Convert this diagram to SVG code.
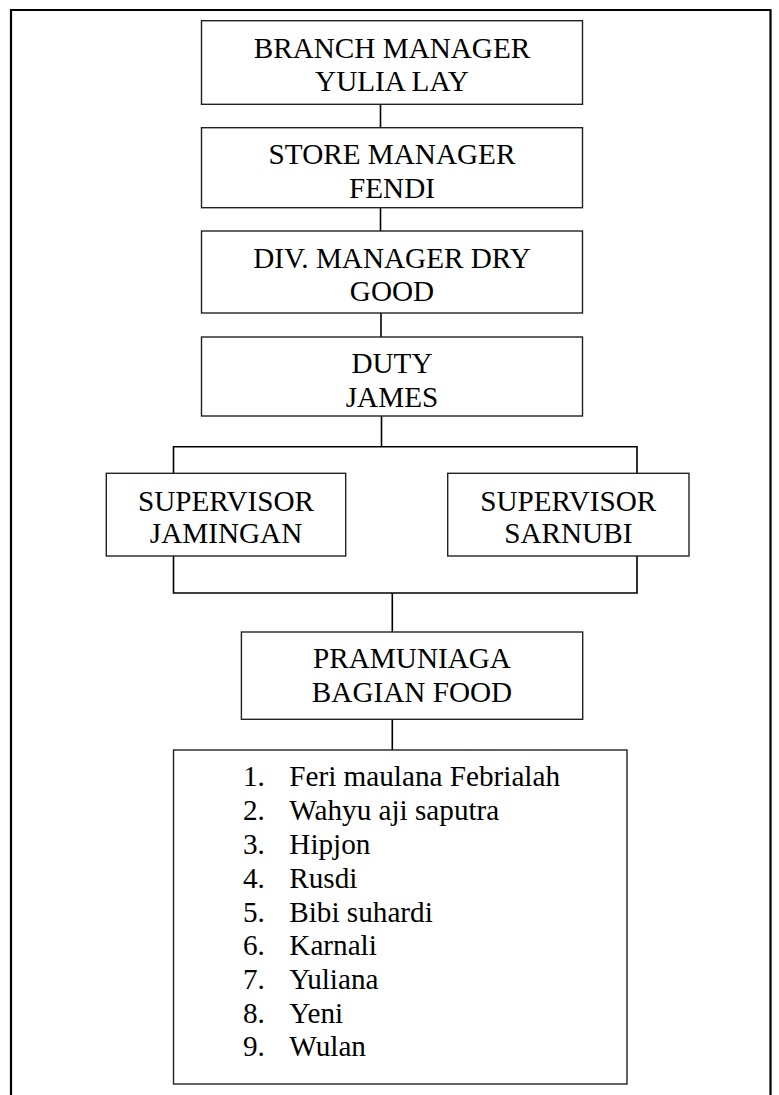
<svg xmlns="http://www.w3.org/2000/svg" width="779" height="1095" viewBox="0 0 779 1095">
<style>
.box{fill:#fff;stroke:#222;stroke-width:1.4}
.t{font-family:"Liberation Serif","Times New Roman",serif;font-size:29.2px;fill:#000;text-anchor:middle}
.l{font-family:"Liberation Serif","Times New Roman",serif;font-size:29.2px;fill:#000}
.c{fill:none;stroke:#000;stroke-width:1.6}
</style>
<rect width="779" height="1095" fill="#fff"/>
<path d="M11 1095 V10 H770.5 V1095" fill="none" stroke="#000" stroke-width="2.2"/>
<g id="connectors">
<path class="c" d="M380.5 104.3 V127.7"/>
<path class="c" d="M380.5 207.7 V231"/>
<path class="c" d="M381 313 V337"/>
<path class="c" d="M381.5 416 V446.7"/>
<path class="c" d="M173.5 473.3 V446.7 H637 V473.3"/>
<path class="c" d="M173.5 556 V593 H637 V556"/>
<path class="c" d="M392.3 593 V632"/>
<path class="c" d="M392.3 719.3 V750"/>
</g>
<g id="branch-manager">
<rect class="box" x="201.5" y="20.7" width="381" height="83.6"/>
<text class="t" x="392" y="57.7">BRANCH MANAGER</text>
<text class="t" x="392" y="90.5">YULIA LAY</text>
</g>
<g id="store-manager">
<rect class="box" x="201.5" y="127.7" width="381" height="80"/>
<text class="t" x="392" y="164.3">STORE MANAGER</text>
<text class="t" x="392" y="197.7">FENDI</text>
</g>
<g id="div-manager">
<rect class="box" x="201.5" y="231" width="381" height="82"/>
<text class="t" x="392" y="267.5">DIV. MANAGER DRY</text>
<text class="t" x="392" y="300.7">GOOD</text>
</g>
<g id="duty">
<rect class="box" x="201.5" y="337" width="381" height="79"/>
<text class="t" x="392" y="373">DUTY</text>
<text class="t" x="392" y="406.7">JAMES</text>
</g>
<g id="supervisor-jamingan">
<rect class="box" x="106.3" y="473.3" width="239.4" height="82.7"/>
<text class="t" x="226" y="510.5">SUPERVISOR</text>
<text class="t" x="226" y="543.3">JAMINGAN</text>
</g>
<g id="supervisor-sarnubi">
<rect class="box" x="447.7" y="473.3" width="241.3" height="82.7"/>
<text class="t" x="568.3" y="510.5">SUPERVISOR</text>
<text class="t" x="568.3" y="543.3">SARNUBI</text>
</g>
<g id="pramuniaga">
<rect class="box" x="241.4" y="632" width="341.3" height="87.3"/>
<text class="t" x="412" y="668.3">PRAMUNIAGA</text>
<text class="t" x="412" y="701.7">BAGIAN FOOD</text>
</g>
<g id="staff-list">
<rect class="box" x="173.5" y="750" width="453.5" height="334"/>
<text class="l" x="243" y="786">1.</text><text class="l" x="289.3" y="786">Feri maulana Febrialah</text>
<text class="l" x="243" y="820">2.</text><text class="l" x="289.3" y="820">Wahyu aji saputra</text>
<text class="l" x="243" y="854">3.</text><text class="l" x="289.3" y="854">Hipjon</text>
<text class="l" x="243" y="887.5">4.</text><text class="l" x="289.3" y="887.5">Rusdi</text>
<text class="l" x="243" y="921.5">5.</text><text class="l" x="289.3" y="921.5">Bibi suhardi</text>
<text class="l" x="243" y="955">6.</text><text class="l" x="289.3" y="955">Karnali</text>
<text class="l" x="243" y="989">7.</text><text class="l" x="289.3" y="989">Yuliana</text>
<text class="l" x="243" y="1022.5">8.</text><text class="l" x="289.3" y="1022.5">Yeni</text>
<text class="l" x="243" y="1056">9.</text><text class="l" x="289.3" y="1056">Wulan</text>
</g>
</svg>
